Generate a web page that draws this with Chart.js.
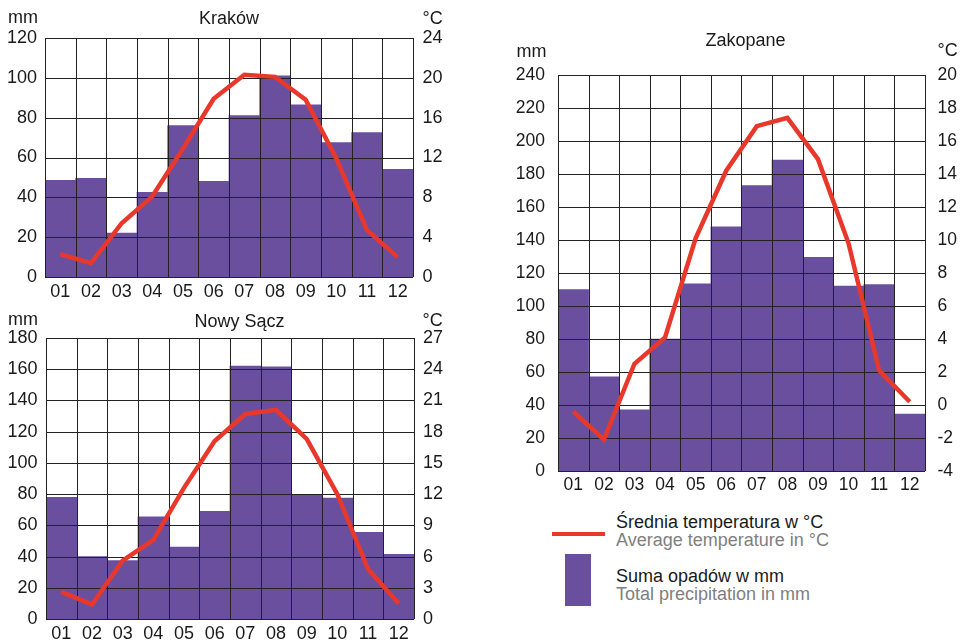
<!DOCTYPE html>
<html><head><meta charset="utf-8">
<script src="https://cdn.jsdelivr.net/npm/chart.js@4.4.0/dist/chart.umd.min.js"></script>
<style>
body{margin:0;background:#fff;width:962px;height:640px;overflow:hidden;position:relative;font-family:'Liberation Sans',Arial,sans-serif;}
canvas{position:absolute;}
.t{position:absolute;font-size:18px;color:#1a1a1a;line-height:18px;white-space:nowrap;}
.c{text-align:center;width:300px;}
.g{color:#808080;}
</style></head><body>
<canvas id="krk" width="460" height="305" style="left:0;top:0;width:460px;height:305px"></canvas>
<canvas id="ns" width="460" height="335" style="left:0;top:305px;width:460px;height:335px"></canvas>
<canvas id="zak" width="462" height="480" style="left:500px;top:20px;width:462px;height:480px"></canvas>

<div class="t" style="left:8px;top:7.5px">mm</div>
<div class="t c" style="left:79px;top:8.5px">Kraków</div>
<div class="t" style="left:422.5px;top:8.5px">°C</div>

<div class="t" style="left:8px;top:310px">mm</div>
<div class="t c" style="left:89.5px;top:311.5px">Nowy Sącz</div>
<div class="t" style="left:422.5px;top:310.5px">°C</div>

<div class="t" style="left:516.5px;top:41.5px">mm</div>
<div class="t c" style="left:595.5px;top:31px">Zakopane</div>
<div class="t" style="left:937.5px;top:41px">°C</div>

<div id="legLine" style="position:absolute;left:552px;top:531.5px;width:53px;height:4px;background:#e8382b"></div>
<div id="legBar" style="position:absolute;left:565px;top:554px;width:26px;height:52px;background:#6a4f9f"></div>
<div class="t" style="left:616px;top:513px">Średnia temperatura w °C</div>
<div class="t g" style="left:616px;top:531px">Average temperature in °C</div>
<div class="t" style="left:616px;top:567px">Suma opadów w mm</div>
<div class="t g" style="left:616px;top:585px">Total precipitation in mm</div>

<script>
const months = ['01','02','03','04','05','06','07','08','09','10','11','12'];

const krakowPrecip = [48.5, 49.5, 22, 42.5, 76, 48, 81, 101, 86.5, 67.5, 72.5, 54];
const krakowTemp   = [2.3, 1.4, 5.4, 8.1, 12.9, 17.9, 20.3, 20.1, 17.8, 11.9, 4.7, 2.0];

const nowySaczPrecip = [78, 40, 37.5, 65.5, 46, 69, 162, 161.5, 79.5, 77.5, 55.5, 41.5];
const nowySaczTemp   = [2.6, 1.4, 5.6, 7.6, 12.6, 17.1, 19.7, 20.1, 17.3, 12.0, 4.8, 1.5];

const zakopanePrecip = [110, 57, 37, 80, 113.5, 148, 173, 188.5, 129.5, 112, 113, 34.5];
const zakopaneTemp   = [-0.4, -2.1, 2.5, 4.1, 10.1, 14.2, 16.9, 17.4, 14.9, 9.8, 2.1, 0.2];

const BAR = '#6a4f9f', RED = '#e8382b', FONT = "'Liberation Sans', Arial, sans-serif";

const overGrid = {
  id: 'overGrid',
  afterDatasetDraw(chart, args) {
    if (args.index !== 0) return;
    const ctx = chart.ctx, a = chart.chartArea, x = chart.scales.x, y = chart.scales.y;
    ctx.save();
    ctx.strokeStyle = '#222';
    ctx.lineWidth = 1;
    ctx.beginPath();
    y.ticks.forEach(t => {
      const py = Math.round(y.getPixelForValue(t.value)) + 0.5;
      ctx.moveTo(a.left, py); ctx.lineTo(a.right, py);
    });
    const n = x.ticks.length;
    for (let i = 0; i <= n; i++) {
      let px = i === 0 ? a.left : i === n ? a.right : (x.getPixelForValue(i - 1) + x.getPixelForValue(i)) / 2;
      px = Math.round(px) + 0.5;
      ctx.moveTo(px, a.top); ctx.lineTo(px, a.bottom);
    }
    ctx.stroke();
    ctx.restore();
  }
};

function makeChart(id, precip, temp, o) {
  const tickFont = { family: FONT, size: o.fs };
  new Chart(document.getElementById(id), {
    data: {
      labels: months,
      datasets: [
        { type: 'bar', data: precip, backgroundColor: BAR, borderWidth: 0,
          barPercentage: 1, categoryPercentage: 1, yAxisID: 'y', order: 2 },
        { type: 'line', data: temp, borderColor: RED, borderWidth: 4.5, pointRadius: 0,
          tension: 0, fill: false, yAxisID: 'y2', order: 1 }
      ]
    },
    options: {
      responsive: false, animation: false, devicePixelRatio: 1,
      layout: { padding: { top: o.top, left: 0, right: 0, bottom: 0 } },
      plugins: { legend: { display: false }, tooltip: { enabled: false }, title: { display: false } },
      scales: {
        x: { grid: { display: false, drawTicks: false }, border: { display: false },
             ticks: { font: tickFont, color: '#1a1a1a', padding: o.xpad, maxRotation: 0, autoSkip: false },
             afterFit: s => { s.height = o.xh; } },
        y: { position: 'left', min: 0, max: o.pmax, grid: { display: false, drawTicks: false }, border: { display: false },
             ticks: { stepSize: 20, font: tickFont, color: '#1a1a1a', padding: o.lpad },
             afterFit: s => { s.width = o.lw; } },
        y2: { position: 'right', min: o.tmin, max: o.tmax, grid: { display: false, drawTicks: false }, border: { display: false },
              ticks: { stepSize: o.tstep, font: tickFont, color: '#1a1a1a', padding: o.rpad },
              afterFit: s => { s.width = o.rw; } }
      }
    },
    plugins: [overGrid]
  });
}

makeChart('krk', krakowPrecip, krakowTemp,
  { fs: 18, top: 38, xh: 28, xpad: 4, lw: 45, rw: 47, lpad: 8, rpad: 9.5, pmax: 120, tmin: 0, tmax: 24, tstep: 4 });
makeChart('ns', nowySaczPrecip, nowySaczTemp,
  { fs: 18, top: 33, xh: 21, xpad: 4, lw: 46, rw: 46, lpad: 8.5, rpad: 9, pmax: 180, tmin: 0, tmax: 27, tstep: 3 });
makeChart('zak', zakopanePrecip, zakopaneTemp,
  { fs: 17.5, top: 55, xh: 29, xpad: 4, lw: 58, rw: 37, lpad: 13, rpad: 12.5, pmax: 240, tmin: -4, tmax: 20, tstep: 2 });
</script>
</body></html>
